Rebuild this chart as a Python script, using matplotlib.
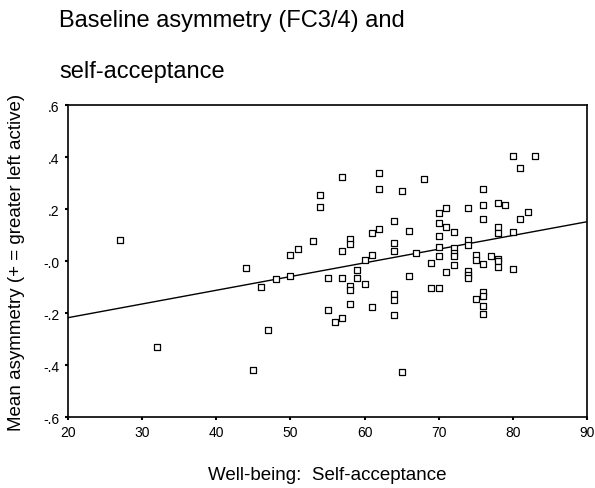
import matplotlib
matplotlib.use("Agg")
import matplotlib.pyplot as plt
import numpy as np

plt.rcParams['font.family'] = ['Liberation Sans', 'DejaVu Sans']

# self-acceptance scores and FC3/4 asymmetry
well_being = [27, 32, 44, 45, 46, 47, 48, 50, 50, 51, 53, 54, 54, 55, 55,
              56, 57, 57, 57, 57, 58, 58, 58, 58, 58, 59, 59, 60, 60,
              61, 61, 61, 62, 62, 62, 64, 64, 64, 64, 64, 64, 65, 65,
              66, 66, 67, 68, 69, 69, 70, 70, 70, 70, 70, 70,
              71, 71, 71, 72, 72, 72, 72, 72, 74, 74, 74, 74, 74, 74,
              75, 75, 75, 76, 76, 76, 76, 76, 76, 76, 76, 77,
              78, 78, 78, 78, 78, 78, 79, 80, 80, 80, 81, 81, 82, 83]
asymmetry = [0.081, -0.331, -0.028, -0.418, -0.099, -0.264, -0.069, -0.059, 0.024, 0.045,
             0.076, 0.255, 0.209, -0.064, -0.187,
             -0.233, -0.218, -0.064, 0.038, 0.322, 0.085, 0.064, -0.095, -0.110, -0.167,
             -0.033, -0.064, 0.003, -0.090,
             0.024, 0.106, -0.177, 0.122, 0.276, 0.337,
             0.153, 0.070, 0.040, -0.126, -0.151, -0.208, 0.270, -0.428,
             0.117, -0.059, 0.030, 0.317, -0.006, -0.105,
             -0.105, 0.019, 0.055, 0.096, 0.147, 0.183,
             0.204, 0.132, -0.042, 0.112, 0.050, 0.030, 0.019, -0.017,
             0.204, 0.081, 0.060, -0.037, -0.053, -0.064,
             0.024, 0.004, -0.146,
             0.276, 0.214, 0.163, -0.012, -0.121, -0.136, -0.172, -0.203, 0.019,
             0.224, 0.132, 0.106, 0.009, -0.001, -0.022,
             0.214, 0.404, 0.112, -0.032, 0.358, 0.163, 0.188, 0.404]

# fitted line end points
fit_x = [20, 90]
fit_y = [-0.218, 0.151]

x_ticks = [20, 30, 40, 50, 60, 70, 80, 90]
y_ticks = [-0.6, -0.4, -0.2, 0.0, 0.2, 0.4, 0.6]
y_tick_labels = ["-.6", "-.4", "-.2", "-.0", ".2", ".4", ".6"]

fig = plt.figure(figsize=(5.95, 4.89), dpi=100)
ax = fig.add_axes([68/595, 1-418/489, 519/595, 312/489])

ax.plot(fit_x, fit_y, color='black', lw=1.0, zorder=2)
ax.scatter(well_being, asymmetry, marker='s', s=20, facecolors='white',
           edgecolors='black', linewidths=0.9, zorder=3)

ax.set_xlim(20, 90)
ax.set_ylim(-0.6, 0.6)
ax.set_xticks(x_ticks)
ax.set_yticks(y_ticks)
ax.set_yticklabels(y_tick_labels)
ax.tick_params(direction='out', length=2, width=1.5, labelsize=10, pad=4)
for s in ax.spines.values():
    s.set_linewidth(1.2)

ax.set_xlabel("Well-being:  Self-acceptance", fontsize=13.5)
ax.xaxis.set_label_coords(0.5, -(476-418)/312)
ax.xaxis.label.set_va('center')
ax.set_ylabel("Mean asymmetry (+ = greater left active)", fontsize=13.5)
ax.yaxis.set_label_coords(-(68-17)/519, 0.5)
ax.yaxis.label.set_va('center')

fig.text(59/595, 1-27/489, "Baseline asymmetry (FC3/4) and", fontsize=17, va='baseline', ha='left')
fig.text(59/595, 1-78/489, "self-acceptance", fontsize=17, va='baseline', ha='left')

fig.savefig("out.png", dpi=100)
